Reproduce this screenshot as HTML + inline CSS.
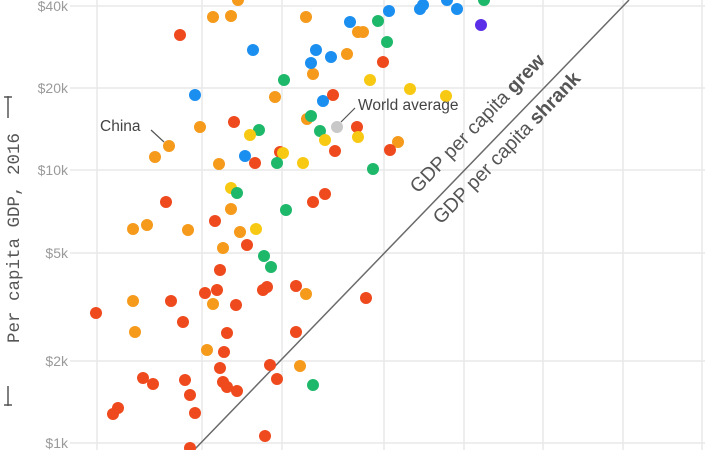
<!DOCTYPE html>
<html><head><meta charset="utf-8"><style>
html,body{margin:0;padding:0;background:#fff;}
svg{display:block;}
text{font-family:"Liberation Sans",sans-serif;}
</style></head><body>
<svg width="720" height="450" viewBox="0 0 720 450" xmlns="http://www.w3.org/2000/svg">
<g stroke="#e9e9e9" stroke-width="1.5">
<line x1="70" y1="6" x2="705" y2="6"/><line x1="70" y1="88" x2="705" y2="88"/>
<line x1="70" y1="170" x2="705" y2="170"/><line x1="70" y1="253" x2="705" y2="253"/>
<line x1="70" y1="361" x2="705" y2="361"/><line x1="70" y1="443" x2="705" y2="443"/>
<line x1="97" y1="0" x2="97" y2="450"/><line x1="202" y1="0" x2="202" y2="450"/>
<line x1="282" y1="0" x2="282" y2="450"/><line x1="384" y1="0" x2="384" y2="450"/>
<line x1="464" y1="0" x2="464" y2="450"/><line x1="543" y1="0" x2="543" y2="450"/>
<line x1="623" y1="0" x2="623" y2="450"/><line x1="702" y1="0" x2="702" y2="450"/>
</g>
<g fill="#9a9a9a" font-size="14" text-anchor="end">
<text x="68" y="11">$40k</text><text x="68" y="93">$20k</text><text x="68" y="175">$10k</text>
<text x="68" y="258">$5k</text><text x="68" y="366">$2k</text><text x="68" y="448">$1k</text>
</g>
<text transform="translate(19,238) rotate(-90)" text-anchor="middle" font-size="17.5" fill="#555" style="font-family:'Liberation Mono',monospace">Per capita GDP, 2016</text>
<g stroke="#555" stroke-width="1.5">
<line x1="8" y1="96" x2="8" y2="118"/><line x1="4" y1="97" x2="12" y2="97"/>
<line x1="8" y1="386" x2="8" y2="406"/><line x1="4" y1="405" x2="12" y2="405"/>
</g>
<line x1="194" y1="450" x2="629" y2="0" stroke="#6a6a6a" stroke-width="1.5"/>
<text transform="translate(418,194) rotate(-46)" font-size="19.5" fill="#555">GDP per capita <tspan font-weight="bold">grew</tspan></text>
<text transform="translate(441,225) rotate(-46)" font-size="19.5" fill="#555">GDP per capita <tspan font-weight="bold">shrank</tspan></text>
<g>
<circle cx="238" cy="0" r="6" fill="#f59a1b"/><circle cx="213" cy="17" r="6" fill="#f59a1b"/><circle cx="231" cy="16" r="6" fill="#f59a1b"/><circle cx="306" cy="17" r="6" fill="#f59a1b"/>
<circle cx="180" cy="35" r="6" fill="#ef4a1e"/><circle cx="253" cy="50" r="6" fill="#1b8ff0"/><circle cx="350" cy="22" r="6" fill="#1b8ff0"/><circle cx="358" cy="32" r="6" fill="#f59a1b"/>
<circle cx="316" cy="50" r="6" fill="#1b8ff0"/><circle cx="313" cy="74" r="6" fill="#f59a1b"/><circle cx="311" cy="63" r="6" fill="#1b8ff0"/><circle cx="331" cy="57" r="6" fill="#1b8ff0"/>
<circle cx="347" cy="54" r="6" fill="#f59a1b"/><circle cx="284" cy="80" r="6" fill="#1eb86a"/><circle cx="195" cy="95" r="6" fill="#1b8ff0"/><circle cx="275" cy="97" r="6" fill="#f59a1b"/>
<circle cx="323" cy="101" r="6" fill="#1b8ff0"/><circle cx="333" cy="95" r="6" fill="#ef4a1e"/><circle cx="234" cy="122" r="6" fill="#ef4a1e"/><circle cx="200" cy="127" r="6" fill="#f59a1b"/>
<circle cx="169" cy="146" r="6" fill="#f59a1b"/><circle cx="155" cy="157" r="6" fill="#f59a1b"/><circle cx="259" cy="130" r="6" fill="#1eb86a"/><circle cx="250" cy="135" r="6" fill="#f7c913"/>
<circle cx="307" cy="119" r="6" fill="#f59a1b"/><circle cx="311" cy="116" r="6" fill="#1eb86a"/><circle cx="337" cy="127" r="6" fill="#c8c8c8"/><circle cx="320" cy="131" r="6" fill="#1eb86a"/>
<circle cx="325" cy="140" r="6" fill="#f7c913"/><circle cx="357" cy="127" r="6" fill="#ef4a1e"/><circle cx="358" cy="137" r="6" fill="#f7c913"/><circle cx="335" cy="151" r="6" fill="#ef4a1e"/>
<circle cx="245" cy="156" r="6" fill="#1b8ff0"/><circle cx="255" cy="163" r="6" fill="#ef4a1e"/><circle cx="219" cy="164" r="6" fill="#f59a1b"/><circle cx="280" cy="152" r="6" fill="#ef4a1e"/>
<circle cx="283" cy="153" r="6" fill="#f7c913"/><circle cx="277" cy="163" r="6" fill="#1eb86a"/><circle cx="303" cy="163" r="6" fill="#f7c913"/><circle cx="231" cy="188" r="6" fill="#f7c913"/>
<circle cx="237" cy="193" r="6" fill="#1eb86a"/><circle cx="166" cy="202" r="6" fill="#ef4a1e"/><circle cx="231" cy="209" r="6" fill="#f59a1b"/><circle cx="286" cy="210" r="6" fill="#1eb86a"/>
<circle cx="313" cy="202" r="6" fill="#ef4a1e"/><circle cx="325" cy="194" r="6" fill="#ef4a1e"/><circle cx="215" cy="221" r="6" fill="#ef4a1e"/>
<circle cx="389" cy="11" r="6" fill="#1b8ff0"/><circle cx="423" cy="5" r="6" fill="#1b8ff0"/><circle cx="420" cy="9" r="6" fill="#1b8ff0"/><circle cx="457" cy="9" r="6" fill="#1b8ff0"/>
<circle cx="447" cy="0" r="6" fill="#1b8ff0"/><circle cx="484" cy="0" r="6" fill="#1eb86a"/><circle cx="481" cy="25" r="6" fill="#5b2ee8"/><circle cx="378" cy="21" r="6" fill="#1eb86a"/>
<circle cx="363" cy="32" r="6" fill="#f59a1b"/><circle cx="387" cy="42" r="6" fill="#1eb86a"/><circle cx="383" cy="62" r="6" fill="#ef4a1e"/><circle cx="370" cy="80" r="6" fill="#f7c913"/>
<circle cx="410" cy="89" r="6" fill="#f7c913"/><circle cx="446" cy="96" r="6" fill="#f7c913"/><circle cx="398" cy="142" r="6" fill="#f59a1b"/><circle cx="390" cy="150" r="6" fill="#ef4a1e"/>
<circle cx="373" cy="169" r="6" fill="#1eb86a"/>
<circle cx="143" cy="378" r="6" fill="#ef4a1e"/><circle cx="153" cy="384" r="6" fill="#ef4a1e"/><circle cx="185" cy="380" r="6" fill="#ef4a1e"/><circle cx="190" cy="395" r="6" fill="#ef4a1e"/>
<circle cx="195" cy="413" r="6" fill="#ef4a1e"/><circle cx="118" cy="408" r="6" fill="#ef4a1e"/><circle cx="113" cy="414" r="6" fill="#ef4a1e"/><circle cx="220" cy="368" r="6" fill="#ef4a1e"/>
<circle cx="207" cy="350" r="6" fill="#f59a1b"/><circle cx="224" cy="352" r="6" fill="#ef4a1e"/><circle cx="227" cy="333" r="6" fill="#ef4a1e"/><circle cx="223" cy="382" r="6" fill="#ef4a1e"/>
<circle cx="227" cy="387" r="6" fill="#ef4a1e"/><circle cx="237" cy="391" r="6" fill="#ef4a1e"/><circle cx="270" cy="365" r="6" fill="#ef4a1e"/><circle cx="277" cy="379" r="6" fill="#ef4a1e"/>
<circle cx="300" cy="366" r="6" fill="#f59a1b"/><circle cx="313" cy="385" r="6" fill="#1eb86a"/><circle cx="265" cy="436" r="6" fill="#ef4a1e"/><circle cx="190" cy="448" r="6" fill="#ef4a1e"/>
<circle cx="96" cy="313" r="6" fill="#ef4a1e"/><circle cx="133" cy="301" r="6" fill="#f59a1b"/><circle cx="135" cy="332" r="6" fill="#f59a1b"/><circle cx="171" cy="301" r="6" fill="#ef4a1e"/>
<circle cx="183" cy="322" r="6" fill="#ef4a1e"/><circle cx="205" cy="293" r="6" fill="#ef4a1e"/><circle cx="217" cy="290" r="6" fill="#ef4a1e"/><circle cx="213" cy="304" r="6" fill="#f59a1b"/>
<circle cx="236" cy="305" r="6" fill="#ef4a1e"/><circle cx="267" cy="287" r="6" fill="#ef4a1e"/><circle cx="263" cy="290" r="6" fill="#ef4a1e"/><circle cx="296" cy="286" r="6" fill="#ef4a1e"/>
<circle cx="306" cy="294" r="6" fill="#f59a1b"/><circle cx="296" cy="332" r="6" fill="#ef4a1e"/><circle cx="366" cy="298" r="6" fill="#ef4a1e"/><circle cx="220" cy="270" r="6" fill="#ef4a1e"/>
<circle cx="264" cy="256" r="6" fill="#1eb86a"/><circle cx="271" cy="267" r="6" fill="#1eb86a"/><circle cx="223" cy="248" r="6" fill="#f59a1b"/><circle cx="247" cy="245" r="6" fill="#ef4a1e"/>
<circle cx="240" cy="232" r="6" fill="#f59a1b"/><circle cx="256" cy="229" r="6" fill="#f7c913"/><circle cx="133" cy="229" r="6" fill="#f59a1b"/><circle cx="147" cy="225" r="6" fill="#f59a1b"/>
<circle cx="188" cy="230" r="6" fill="#f59a1b"/>
</g>
<line x1="151" y1="130" x2="164" y2="142" stroke="#555" stroke-width="1.2"/>
<text x="100" y="131" font-size="15.5" fill="#444">China</text>
<line x1="341" y1="122" x2="355" y2="108" stroke="#555" stroke-width="1.2"/>
<text x="358" y="110" font-size="15.5" fill="#444">World average</text>
</svg>
</body></html>
